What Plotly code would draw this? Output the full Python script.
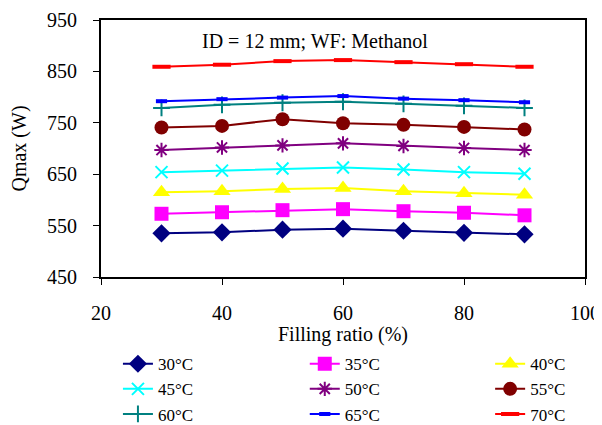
import plotly.graph_objects as go

filling_ratio = [30, 40, 50, 60, 70, 80, 90]
labels = ["30°C", "35°C", "40°C", "45°C", "50°C", "55°C", "60°C", "65°C", "70°C"]
q30 = [535, 537, 542, 544, 540, 536, 533]
q35 = [573, 576, 580, 582, 578, 575, 570]
q40 = [615, 617, 621, 623, 617, 613, 610]
q45 = [654, 657, 661, 663, 659, 654, 651]
q50 = [697, 702, 706, 710, 705, 701, 697]
q55 = [741, 744, 757, 749, 746, 742, 737]
q60 = [779, 785, 789, 791, 787, 783, 779]
q65 = [792, 796, 799, 802, 797, 794, 790]
q70 = [859, 863, 870, 872, 868, 864, 859]
series = [q30, q35, q40, q45, q50, q55, q60, q65, q70]

colors = ["#000080", "#FF00FF", "#FFFF00", "#00FFFF", "#800080",
          "#800000", "#008080", "#0000FF", "#FF0000"]
markers = [
    dict(symbol="diamond", size=14),
    dict(symbol="square", size=14),
    dict(symbol="triangle-up", size=15),
    dict(symbol="x-thin-open", size=12, line=dict(width=2)),
    dict(symbol="asterisk-open", size=12, line=dict(width=2)),
    dict(symbol="circle", size=14),
    dict(symbol="cross-thin-open", size=12, line=dict(width=2)),
    dict(symbol="line-ew-open", size=8, line=dict(width=4)),
    dict(symbol="line-ew-open", size=13, line=dict(width=4)),
]
# legend column for each series (3 columns, read row-wise)
legend_ids = ["legend", "legend2", "legend3"] * 3

fig = go.Figure()
for lab, ys, c, m, lg in zip(labels, series, colors, markers, legend_ids):
    mk = dict(m)
    mk["color"] = c
    if "line" in mk:
        mk["line"] = dict(mk["line"], color=c)
    fig.add_trace(go.Scatter(x=filling_ratio, y=ys, name=lab, mode="lines+markers",
                             line=dict(color=c, width=2), marker=mk, legend=lg))

font = "Liberation Serif, Times New Roman, serif"
leg_common = dict(orientation="v", yref="container", y=0.189, yanchor="top",
                  xanchor="left", font=dict(family=font, size=17, color="black"),
                  bgcolor="rgba(0,0,0,0)", tracegroupgap=0)
fig.update_layout(
    width=594, height=417,
    margin=dict(l=93, r=17, t=12, b=148, autoexpand=False),
    paper_bgcolor="white", plot_bgcolor="white",
    font=dict(family=font, size=20, color="black"),
    showlegend=True,
    legend=dict(leg_common, x=0.035),
    legend2=dict(leg_common, x=0.421),
    legend3=dict(leg_common, x=0.804),
    annotations=[dict(text="ID = 12 mm; WF: Methanol", x=0.442, y=0.919,
                      xref="paper", yref="paper", xanchor="center", yanchor="middle",
                      showarrow=False,
                      font=dict(family=font, size=20, color="black"))],
)
fig.update_xaxes(range=[20, 100], tickvals=[20, 40, 60, 80, 100], showgrid=False,
                 zeroline=False, showline=True, linecolor="black", linewidth=2, mirror=True,
                 ticks="outside", ticklen=6, tickcolor="black", ticklabelstandoff=11,
                 title=dict(text="Filling ratio (%)", standoff=27,
                            font=dict(family=font, size=20)))
fig.update_yaxes(range=[450, 950], tickvals=[450, 550, 650, 750, 850, 950], showgrid=False,
                 zeroline=False, showline=True, linecolor="black", linewidth=2, mirror=True,
                 ticks="outside", ticklen=6, tickcolor="black", ticklabelstandoff=12,
                 title=dict(text="Qmax (W)", standoff=20,
                            font=dict(family=font, size=20)))

fig.write_html("out.html")
